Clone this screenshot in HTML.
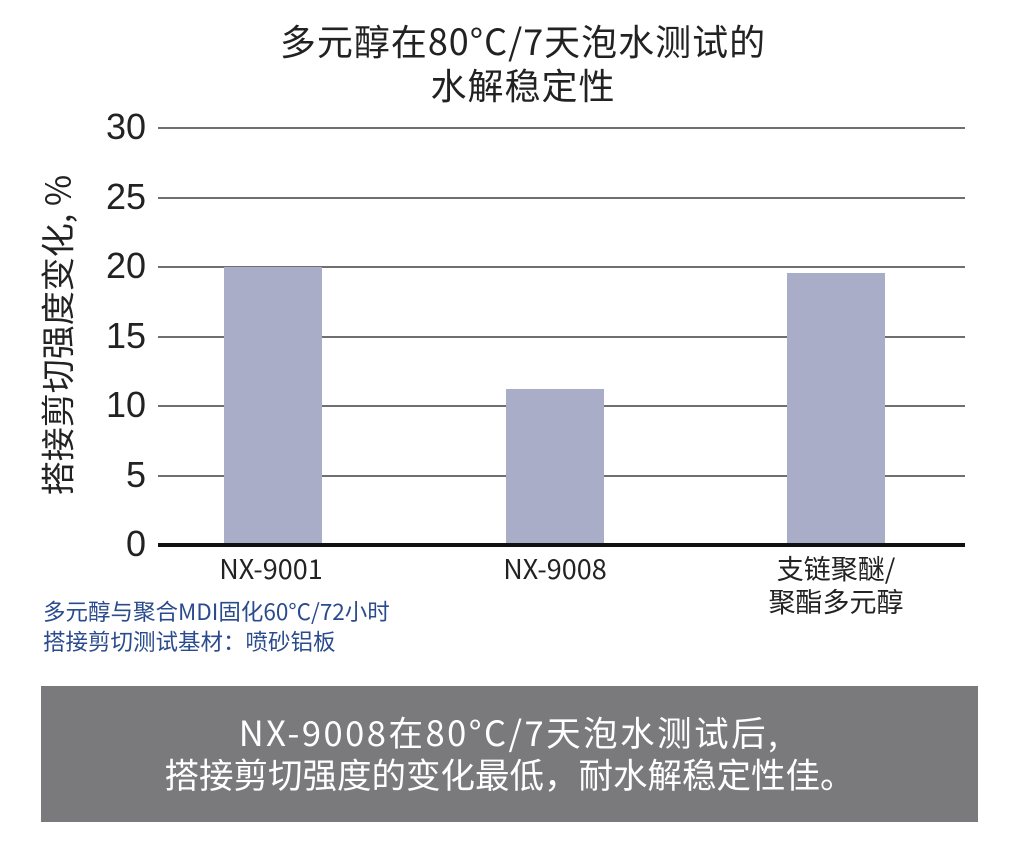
<!DOCTYPE html>
<html><head><meta charset="utf-8"><style>
body{margin:0;background:#fff;width:1030px;height:851px;position:relative;overflow:hidden;font-family:"Liberation Sans","Noto Sans CJK SC",sans-serif;}
.a{position:absolute;}
.g{position:absolute;left:158px;width:807px;height:1.5px;background:#6e6e73;}
.t{position:absolute;width:70px;text-align:right;left:76px;font-size:36px;color:#222;line-height:36px;}
.bar{position:absolute;background:#a9adc8;width:98px;}
.xl{position:absolute;width:240px;text-align:center;font-size:27px;color:#222;line-height:33px;font-family:"Noto Sans CJK SC",sans-serif;}
</style></head><body>
<div class="a" style="left:0;width:1046px;top:18px;text-align:center;font-size:36px;letter-spacing:1px;line-height:44px;color:#222;font-family:'Noto Sans CJK SC',sans-serif;">多元醇在80°C/7天泡水测试的<br>水解稳定性</div>
<div class="g" style="top:127px"></div>
<div class="g" style="top:197px"></div>
<div class="g" style="top:266px"></div>
<div class="g" style="top:336px"></div>
<div class="g" style="top:405px"></div>
<div class="g" style="top:475px"></div>
<div class="t" style="top:109px">30</div>
<div class="t" style="top:179px">25</div>
<div class="t" style="top:248px">20</div>
<div class="t" style="top:318px">15</div>
<div class="t" style="top:387px">10</div>
<div class="t" style="top:457px">5</div>
<div class="t" style="top:526px">0</div>
<div class="bar" style="left:224px;top:267px;height:278px"></div>
<div class="bar" style="left:506px;top:389px;height:156px"></div>
<div class="bar" style="left:787px;top:273px;height:272px"></div>
<div class="a" style="left:158px;width:807px;top:543px;height:4px;background:#111"></div>
<div class="a" style="left:56px;top:335px;transform:translate(-50%,-50%) rotate(-90deg);white-space:nowrap;font-size:34px;color:#222;font-family:'Noto Sans CJK SC',sans-serif;">搭接剪切强度变化, %</div>
<div class="xl" style="left:151px;top:551px">NX-9001</div>
<div class="xl" style="left:435px;top:551px">NX-9008</div>
<div class="xl" style="left:716px;top:551px">支链聚醚/<br>聚酯多元醇</div>
<div class="a" style="left:43px;top:596px;font-size:22.5px;line-height:30px;color:#2a4b8d;font-family:'Noto Sans CJK SC',sans-serif;">多元醇与聚合MDI固化60°C/72小时<br>搭接剪切测试基材：喷砂铝板</div>
<div class="a" style="left:41px;top:686px;width:937px;height:136px;background:#7a7a7c;color:#fff;text-align:center;font-size:34.5px;line-height:42px;font-family:'Noto Sans CJK SC',sans-serif;"><div style="padding-top:24px"><span style="letter-spacing:2.5px">NX-9008在80°C/7天泡水测试后,</span><br>搭接剪切强度的变化最低，耐水解稳定性佳。</div></div>
</body></html>
